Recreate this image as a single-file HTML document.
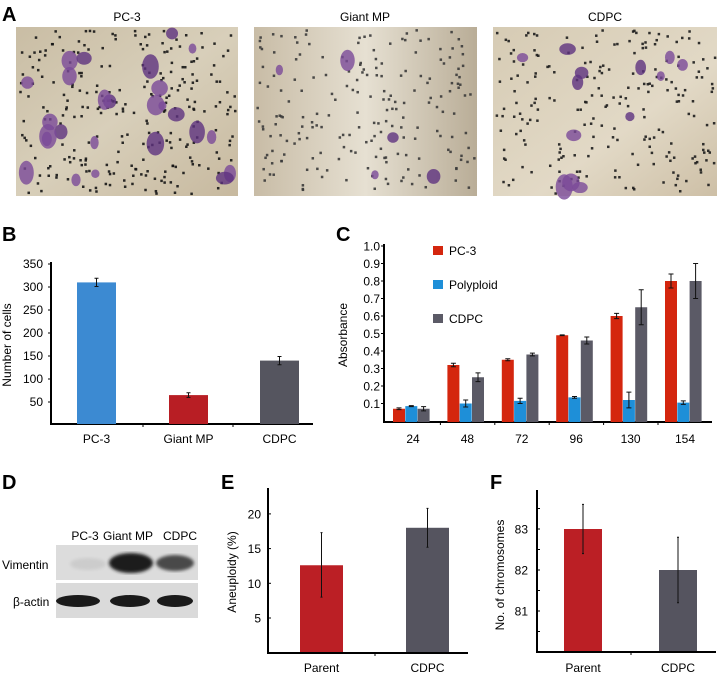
<!DOCTYPE html>
<html><head><meta charset="utf-8">
<style>
html,body{margin:0;padding:0;background:#fff;}
svg{display:block;font-family:"Liberation Sans Narrow","Liberation Sans",Arial,sans-serif;}
</style></head>
<body>
<svg id="fig" width="718" height="675" viewBox="0 0 718 675" xmlns="http://www.w3.org/2000/svg">
<defs>
<linearGradient id="g1" x1="0" y1="0" x2="1" y2="1"><stop offset="0" stop-color="#c9bda4"/><stop offset="0.5" stop-color="#d8cfba"/><stop offset="1" stop-color="#c7b99f"/></linearGradient>
<linearGradient id="g2" x1="0" y1="0" x2="1" y2="0"><stop offset="0" stop-color="#c8bca6"/><stop offset="0.5" stop-color="#e6e0d2"/><stop offset="1" stop-color="#b9ad97"/></linearGradient>
<linearGradient id="g3" x1="0" y1="0" x2="1" y2="1"><stop offset="0" stop-color="#d6cbb4"/><stop offset="0.6" stop-color="#e2d9c6"/><stop offset="1" stop-color="#cdbfa6"/></linearGradient>
<filter id="blur1"><feGaussianBlur stdDeviation="1.5"/></filter>
</defs>
<g>
<text x="2" y="21" font-size="20" font-weight="bold">A</text>
<text x="127" y="21" font-size="12" text-anchor="middle">PC-3</text>
<text x="365" y="21" font-size="12" text-anchor="middle">Giant MP</text>
<text x="605" y="21" font-size="12" text-anchor="middle">CDPC</text>
<g id="imgs"></g>
</g>
<g id="panelB">
<text x="2" y="241" font-size="20" font-weight="bold">B</text>
<text transform="translate(11,345) rotate(-90)" font-size="12" text-anchor="middle">Number of cells</text>
</g>
<g id="panelC">
<text x="336" y="241" font-size="20" font-weight="bold">C</text>
<text transform="translate(347,335) rotate(-90)" font-size="12" text-anchor="middle">Absorbance</text>
</g>
<g>
<text x="2" y="489" font-size="20" font-weight="bold">D</text>
<text x="85" y="540" font-size="12" text-anchor="middle">PC-3</text>
<text x="128" y="540" font-size="12" text-anchor="middle">Giant MP</text>
<text x="180" y="540" font-size="12" text-anchor="middle">CDPC</text>
<text x="2" y="569" font-size="12">Vimentin</text>
<text x="13" y="606" font-size="12">β-actin</text>
<rect x="56" y="545" width="142" height="35" fill="#dcdcdc"/>
<rect x="56" y="583" width="142" height="35" fill="#dadada"/>
<ellipse cx="88" cy="564" rx="18" ry="6" fill="#cccccc" filter="url(#blur1)"/>
<ellipse cx="131" cy="563" rx="22" ry="10" fill="#1c1c1c" filter="url(#blur1)"/>
<ellipse cx="175" cy="563" rx="19" ry="8" fill="#4a4a4a" filter="url(#blur1)"/>
<ellipse cx="78" cy="601" rx="22" ry="6" fill="#1a1a1a"/>
<ellipse cx="130" cy="601" rx="20" ry="6" fill="#1a1a1a"/>
<ellipse cx="175" cy="601" rx="18" ry="6" fill="#1a1a1a"/>
</g>
<g id="panelE">
<text x="221" y="489" font-size="20" font-weight="bold">E</text>
<text transform="translate(236,572) rotate(-90)" font-size="12" text-anchor="middle">Aneuploidy (%)</text>
</g>
<g id="panelF">
<text x="490" y="489" font-size="20" font-weight="bold">F</text>
<text transform="translate(504,575) rotate(-90)" font-size="12" text-anchor="middle">No. of chromosomes</text>
</g>
</svg>
<script>
// ---- Panel B data
const bCats = ["PC-3","Giant MP","CDPC"];
const bVals = [310, 65, 140];
const bErrs = [9, 5, 9];
const bTicks = [50,100,150,200,250,300,350];
// ---- Panel C data
const cCats = ["24","48","72","96","130","154"];
const cPC3 = [0.07,0.32,0.35,0.49,0.60,0.80];
const cPC3Err = [0.005,0.01,0.006,0.002,0.015,0.04];
const cPoly = [0.085,0.10,0.115,0.135,0.12,0.105];
const cPolyErr = [0.003,0.02,0.015,0.005,0.045,0.01];
const cCDPC = [0.07,0.25,0.38,0.46,0.65,0.80];
const cCDPCErr = [0.012,0.025,0.008,0.02,0.1,0.1];
const cTicks = ["0.1","0.2","0.3","0.4","0.5","0.6","0.7","0.8","0.9","1.0"];
const cSeriesNames = ["PC-3","Polyploid","CDPC"];
// ---- Panel E data
const eCats = ["Parent","CDPC"];
const eVals = [12.6, 18.0];
const eLow = [8.0, 15.2];
const eHigh = [17.3, 20.8];
const eTicks = [5,10,15,20];
// ---- Panel F data
const fCats = ["Parent","CDPC"];
const fVals = [83, 82];
const fLow = [82.4, 81.2];
const fHigh = [83.6, 82.8];
const fTicks = [81,82,83];

const NS="http://www.w3.org/2000/svg";
function mk(tag, attrs, parent){const e=document.createElementNS(NS,tag);for(const k in attrs)e.setAttribute(k,attrs[k]);parent.appendChild(e);return e;}
function txt(s, attrs, parent){const e=mk('text',attrs,parent);e.textContent=s;return e;}
function errbar(g,x,y1,y2,w,name){
  const l=mk('path',{d:`M${x},${y1}V${y2}M${x-w},${y1}H${x+w}M${x-w},${y2}H${x+w}`,stroke:'#111','stroke-width':1,fill:'none'},g);
  
  
}

// Panel B
(function(){
  const g=document.getElementById('panelB');
  const y=v=>425-v*(161/350);
  const x0=51, colors=["#3c8ad2","#b81e24","#55555f"], bx=[77,169,260];
  mk('path',{d:`M${x0},262V424H313`,stroke:'#000','stroke-width':2,fill:'none'},g);
  bTicks.forEach(t=>{
    mk('line',{x1:x0-3,x2:x0,y1:y(t),y2:y(t),stroke:'#000'},g);
    const tl=txt(String(t),{x:43,y:y(t)+4,'font-size':12,'text-anchor':'end'},g);
    
    
  });
  [143,233].forEach(t=>mk('line',{x1:t,x2:t,y1:424,y2:427,stroke:'#000'},g));
  bCats.forEach((c,i)=>{
    const r=mk('rect',{x:bx[i],y:y(bVals[i]),width:39,height:424-y(bVals[i]),fill:colors[i]},g);
    
    
    errbar(g,bx[i]+19.5,y(bVals[i]+bErrs[i]),y(bVals[i]-bErrs[i]),2,'error-bar-b');
    const t=txt(c,{x:bx[i]+19.5,y:443,'font-size':12,'text-anchor':'middle'},g);
    
    
  });
})();

// Panel C
(function(){
  const g=document.getElementById('panelC');
  const y=v=>421-v*175;
  const x0=384;
  mk('path',{d:`M${x0},244V422H712`,stroke:'#000','stroke-width':2,fill:'none'},g);
  cTicks.forEach(t=>{
    const v=parseFloat(t);
    mk('line',{x1:x0-3,x2:x0,y1:y(v),y2:y(v),stroke:'#000'},g);
    const tl=txt(t,{x:380,y:y(v)+4.5,'font-size':12,'text-anchor':'end'},g);
    
    
  });
  const series=[cPC3,cPoly,cCDPC], errs=[cPC3Err,cPolyErr,cCDPCErr], cols=["#d4260e","#1e8fd8","#5b5a66"];
  cCats.forEach((c,i)=>{
    const gx=393+i*54.4;
    series.forEach((s,k)=>{
      const bx=gx+k*12.3;
      const r=mk('rect',{x:bx,y:y(s[i]),width:12,height:422-y(s[i]),fill:cols[k]},g);
      
      
      errbar(g,bx+6,y(s[i]+errs[k][i]),y(s[i]-errs[k][i]),2.5,'error-bar-c');
    });
    if(i>0) mk('line',{x1:gx-7,x2:gx-7,y1:422,y2:425,stroke:'#000'},g);
    const t=txt(c,{x:gx+20,y:443,'font-size':12,'text-anchor':'middle'},g);
    
    
  });
  cSeriesNames.forEach((n,k)=>{
    const ly=246+k*34;
    const sq=mk('rect',{x:433,y:ly,width:10,height:9,fill:cols[k]},g);
    
    
    const t=txt(n,{x:449,y:ly+9,'font-size':12},g);
    
    
  });
})();

// Panel E
(function(){
  const g=document.getElementById('panelE');
  const y=v=>652.7-v*6.94;
  const x0=268, bx=[300,406], cols=["#bb1f25","#55545f"];
  mk('path',{d:`M${x0},488V653H468`,stroke:'#000','stroke-width':2,fill:'none'},g);
  eTicks.forEach(t=>{
    mk('line',{x1:x0,x2:x0+3,y1:y(t),y2:y(t),stroke:'#000'},g);
    const tl=txt(String(t),{x:261,y:y(t)+4.5,'font-size':12,'text-anchor':'end'},g);
    
    
  });
  mk('line',{x1:375,x2:375,y1:653,y2:656,stroke:'#000'},g);
  eCats.forEach((c,i)=>{
    const r=mk('rect',{x:bx[i],y:y(eVals[i]),width:43,height:652-y(eVals[i]),fill:cols[i]},g);
    
    
    errbar(g,bx[i]+21.5,y(eHigh[i]),y(eLow[i]),1,'error-bar-e');
    const t=txt(c,{x:bx[i]+21.5,y:672,'font-size':12,'text-anchor':'middle'},g);
    
    
  });
})();

// Panel F
(function(){
  const g=document.getElementById('panelF');
  const y=v=>652-(v-80)*41;
  const x0=537, bx=[564,659], cols=["#bb1f25","#55545f"];
  mk('path',{d:`M${x0},490V652H716`,stroke:'#000','stroke-width':2,fill:'none'},g);
  for(let v=80.5; v<=83.5; v+=0.5) mk('line',{x1:x0,x2:x0+3,y1:y(v),y2:y(v),stroke:'#000'},g);
  fTicks.forEach(t=>{
    const tl=txt(String(t),{x:528,y:y(t)+4.5,'font-size':12,'text-anchor':'end'},g);
    
    
  });
  mk('line',{x1:631,x2:631,y1:652,y2:655,stroke:'#000'},g);
  fCats.forEach((c,i)=>{
    const r=mk('rect',{x:bx[i],y:y(fVals[i]),width:38,height:651-y(fVals[i]),fill:cols[i]},g);
    
    
    errbar(g,bx[i]+19,y(fHigh[i]),y(fLow[i]),1,'error-bar-f');
    const t=txt(c,{x:bx[i]+19,y:672,'font-size':12,'text-anchor':'middle'},g);
    
    
  });
})();

// Panel A micrographs (decorative texture)
(function(){
  const g=document.getElementById('imgs');
  let s=12345;
  const rnd=()=>{s=(s*1103515245+12345)%2147483648;return s/2147483648;};
  const imgs=[{x:16,w:222,fill:'url(#g1)',dots:260,blobs:26,name:'pc3-micrograph',dot:'#151515'},
              {x:254,w:223,fill:'url(#g2)',dots:200,blobs:5,name:'giant-mp-micrograph',dot:'#3a3a3a'},
              {x:493,w:224,fill:'url(#g3)',dots:220,blobs:13,name:'cdpc-micrograph',dot:'#1c1c1c'}];
  imgs.forEach(im=>{
    const sub=mk('g',{},g);
    
    
    mk('rect',{x:im.x,y:27,width:im.w,height:169,fill:im.fill},sub);
    for(let i=0;i<im.dots;i++){
      mk('rect',{x:im.x+2+rnd()*(im.w-5),y:29+rnd()*164,width:2.5,height:2.5,fill:im.dot,opacity:0.9},sub);
    }
    for(let i=0;i<im.blobs;i++){
      const r=3+rnd()*6;
      mk('ellipse',{cx:im.x+6+rnd()*(im.w-12),cy:32+rnd()*158,rx:r,ry:r*(0.7+rnd()*0.9),fill:i%3?'#7b4a98':'#5e3280',opacity:0.8},sub);
    }
  });
})();
</script>
</body></html>
